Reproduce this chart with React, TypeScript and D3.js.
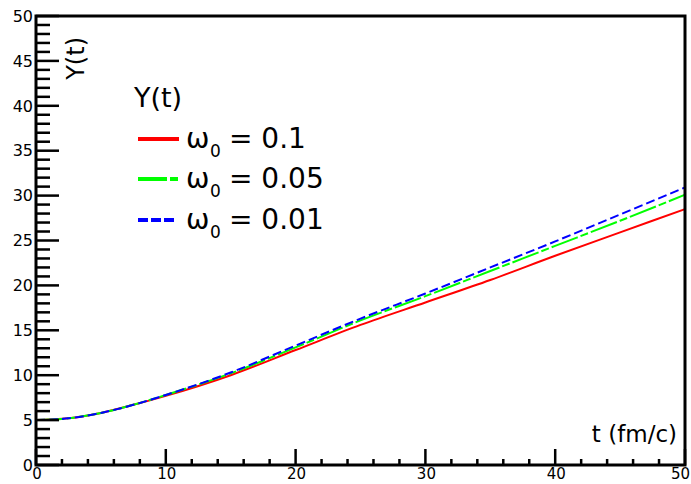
import React, { useEffect, useRef } from 'react';
import * as d3 from 'd3';

// values
const tValues = [0, 2.5, 5, 7.5, 10, 15, 20, 25, 30, 35, 40, 45, 50];
const yRed = [5.0, 5.2, 5.8, 6.7, 7.7, 10.0, 12.8, 15.6, 18.1, 20.6, 23.3, 25.9, 28.5];
const yGreen = [5.0, 5.2, 5.8, 6.7, 7.8, 10.2, 13.1, 16.1, 18.8, 21.6, 24.4, 27.2, 30.1];
const yBlue = [5.0, 5.2, 5.8, 6.7, 7.8, 10.3, 13.3, 16.3, 19.1, 22.0, 24.9, 27.9, 30.9];
const xTicks = [0, 10, 20, 30, 40, 50];
const yTicks = [0, 5, 10, 15, 20, 25, 30, 35, 40, 45, 50];
const legendLabels = ['0.1', '0.05', '0.01'];

const series = [
  { values: yRed, color: '#ff0000', dash: null, legendDash: null },
  { values: yGreen, color: '#00ff00', dash: '28 3 8 3', legendDash: '29 3 8 3' },
  { values: yBlue, color: '#0000ff', dash: '9 4', legendDash: '10 3' },
];

const W = 691, H = 484;
const left = 36, right = 685, top = 16, bottom = 465;
const font = 'DejaVu Sans, sans-serif';

function App() {
  const ref = useRef(null);

  useEffect(() => {
    const svg = d3.select(ref.current);
    svg.selectAll('*').remove();

    const x = d3.scaleLinear().domain([0, 50]).range([left, right]);
    const y = d3.scaleLinear().domain([0, 50]).range([bottom, top]);

    // curves
    const line = d3.line<number>()
      .x((d, i) => x(tValues[i]))
      .y(d => y(d))
      .curve(d3.curveMonotoneX);

    series.forEach(s => {
      svg.append('path')
        .attr('d', line(s.values))
        .attr('fill', 'none')
        .attr('stroke', s.color)
        .attr('stroke-width', 2)
        .attr('stroke-dasharray', s.dash);
    });

    // frame
    svg.append('rect')
      .attr('x', left).attr('y', top)
      .attr('width', right - left).attr('height', bottom - top)
      .attr('fill', 'none').attr('stroke', 'black').attr('stroke-width', 3);

    // x ticks, minor every 2
    d3.range(0, 50.01, 2).forEach(v => {
      const major = v % 10 === 0;
      svg.append('line')
        .attr('x1', x(v)).attr('x2', x(v))
        .attr('y1', bottom).attr('y2', bottom - (major ? 16 : 6))
        .attr('stroke', 'black').attr('stroke-width', 2.5);
    });
    // y ticks, minor every 1
    d3.range(0, 50.01, 1).forEach(v => {
      const major = v % 5 === 0;
      svg.append('line')
        .attr('x1', left).attr('x2', left + (major ? 23 : 14))
        .attr('y1', y(v)).attr('y2', y(v))
        .attr('stroke', 'black').attr('stroke-width', 2.5);
    });

    // last label sits against the right edge, as in the picture
    svg.selectAll('.xl').data(xTicks).enter().append('text')
      .attr('x', d => d === 50 ? W - 1 : x(d) + 1).attr('y', 479)
      .attr('text-anchor', d => d === 50 ? 'end' : 'middle')
      .attr('font-family', font).attr('font-size', 15)
      .text(d => d);

    svg.selectAll('.yl').data(yTicks).enter().append('text')
      .attr('x', 33).attr('y', d => y(d))
      .attr('dy', '0.36em')
      .attr('text-anchor', 'end')
      .attr('font-family', font).attr('font-size', 16)
      .text(d => d);

    // axis titles
    svg.append('text')
      .attr('x', 677).attr('y', 442)
      .attr('text-anchor', 'end')
      .attr('font-family', font).attr('font-size', 23)
      .text('t (fm/c)');

    svg.append('text')
      .attr('transform', 'translate(84,37) rotate(-90)')
      .attr('text-anchor', 'end')
      .attr('font-family', font).attr('font-size', 24)
      .text('Y(t)');

    // legend
    const lg = svg.append('g');
    lg.append('text')
      .attr('x', 134).attr('y', 107)
      .attr('font-family', font).attr('font-size', 27)
      .text('Y(t)');

    const rowY = [139, 179, 220];
    series.forEach((s, i) => {
      lg.append('line')
        .attr('x1', 138).attr('x2', i === 2 ? 174 : 179)
        .attr('y1', rowY[i]).attr('y2', rowY[i])
        .attr('stroke', s.color).attr('stroke-width', 4)
        .attr('stroke-dasharray', s.legendDash);
      const base = rowY[i] + 9;
      lg.append('text')
        .attr('x', 186).attr('y', base)
        .attr('font-family', font).attr('font-size', 28)
        .text('\u03c9');
      lg.append('text')
        .attr('x', 210).attr('y', base + 9)
        .attr('font-family', font).attr('font-size', 17)
        .text('0');
      lg.append('text')
        .attr('x', 229).attr('y', base)
        .attr('font-family', font).attr('font-size', 28)
        .text('= ' + legendLabels[i]);
    });
  }, []);

  return (
    <svg ref={ref} width={W} height={H}
      style={{ position: 'absolute', left: 0, top: 0, background: 'white' }} />
  );
}

export default App;
